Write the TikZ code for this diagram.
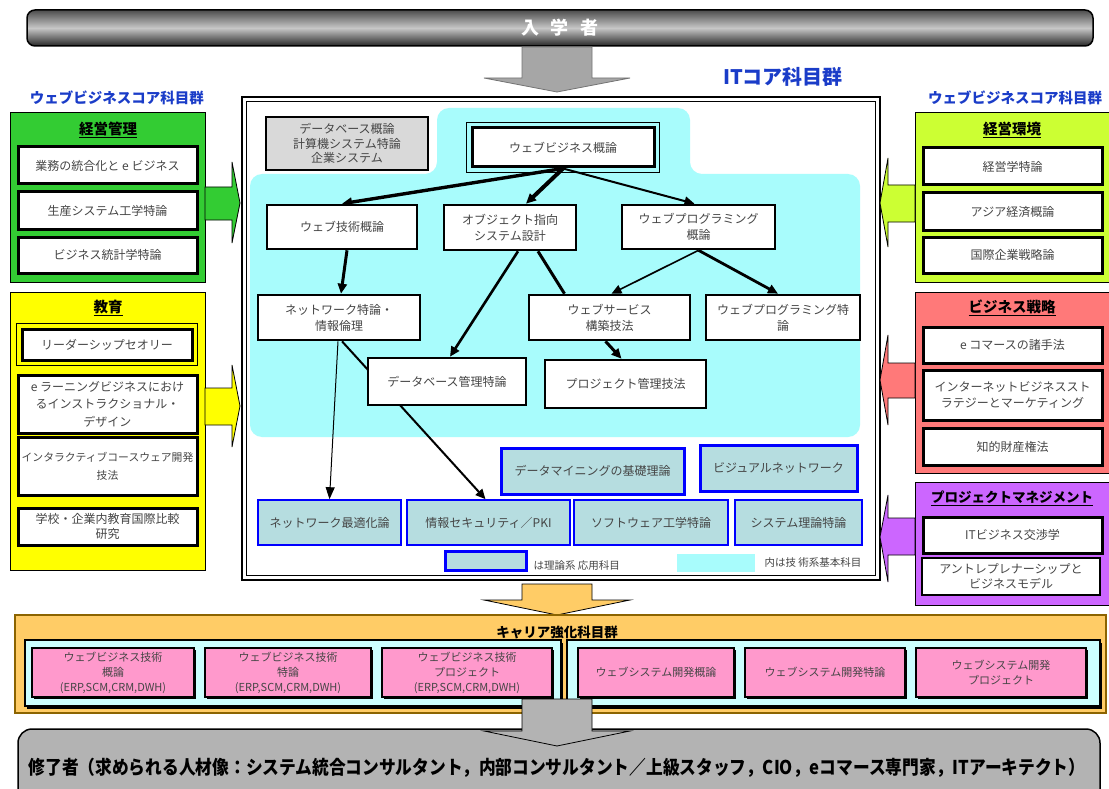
\documentclass[tikz,border=0pt]{standalone}
\usepackage{fontspec}
\setmainfont{Noto Sans CJK JP}
\usetikzlibrary{arrows.meta,calc,shadows}
\pgfdeclarelayer{bg}\pgfdeclarelayer{mid}
\pgfsetlayers{bg,mid,main}
\definecolor{cTxt}{HTML}{454545}
\definecolor{cGreen}{HTML}{33CC33}
\definecolor{cYellow}{HTML}{FFFF00}
\definecolor{cLime}{HTML}{CCFF33}
\definecolor{cSalmon}{HTML}{FF7979}
\definecolor{cPurple}{HTML}{CC66FF}
\definecolor{cOrange}{HTML}{FFCC66}
\definecolor{cOrangeBd}{HTML}{8C6400}
\definecolor{cInCyan}{HTML}{CCFFFF}
\definecolor{cPink}{HTML}{FF99CC}
\definecolor{cCyan}{HTML}{A8FCFC}
\definecolor{cTeal}{HTML}{B6DDE0}
\definecolor{cBlueBd}{HTML}{0000FF}
\definecolor{cBlue}{HTML}{1A3CC8}
\definecolor{cGrayBox}{HTML}{D9D9D9}
\definecolor{cBanner}{HTML}{B3B3B3}
\definecolor{cArrow}{HTML}{A6A6A6}
\newcommand\bx[7]{\node[#6, minimum width={(#4-#2)*1pt}, minimum height={(#5-#3)*1pt}] (#1) at ({(#2+#4)/2},{(#3+#5)/2}) {#7};}
\begin{document}
\begin{tikzpicture}[x=1pt,y=-1pt,
 wbox/.style={draw=black, line width=2.6pt, fill=white, text=cTxt, align=center, inner sep=1pt, font=\fontsize{12}{16}\selectfont},
 lbox/.style={wbox, line width=3pt},
 gbox/.style={wbox, fill=cGrayBox},
 bbox/.style={draw=cBlueBd, line width=1.6pt, fill=cTeal, text=cTxt, align=center, inner sep=1pt, font=\fontsize{12}{16}\selectfont},
 bboxT/.style={bbox, line width=3pt},
 pbox/.style={draw=black, line width=1.2pt, fill=cPink, text=cTxt, align=center, inner sep=1pt, font=\fontsize{11}{15}\selectfont, drop shadow={shadow xshift=1.5pt, shadow yshift=-1.5pt, fill=black, opacity=1}},
 panel/.style={draw=black, line width=1pt},
 ptitle/.style={font=\bfseries\fontsize{14.5}{16}\selectfont, text=black},
 grouptitle/.style={font=\bfseries\fontsize{14.5}{16}\selectfont, text=cBlue},
 conn/.style={-{Triangle[length=10pt,width=9pt]}, line width=2.6pt},
 bigarrow/.style={draw=black, line width=0.8pt},
]
\path[use as bounding box] (0,0) rectangle (1109,789);
\clip (0,0) rectangle (1109,789);

% ---------- top banner ----------
\bx{entrant}{27}{10}{1093}{46}{draw=black, line width=1.5pt, rounded corners=8pt, top color=black!70, bottom color=black!85, middle color=black!22, text=white, font=\bfseries\fontsize{18}{20}\selectfont}{入\hspace{12pt}学\hspace{12pt}者}
\path[bigarrow, draw=black!55, fill=cArrow] (522,47) -- (592,47) -- (592,78) -- (630,78) -- (557,92) -- (484,78) -- (522,78) -- cycle;

\node[font=\bfseries\fontsize{20}{22}\selectfont, text=cBlue] (itcore) at (783,77) {ITコア科目群};
\node[grouptitle] (wbcL) at (117,98) {ウェブビジネスコア科目群};
\node[grouptitle] (wbcR) at (1015,98) {ウェブビジネスコア科目群};

% ---------- central frame ----------
\begin{pgfonlayer}{bg}
\draw[line width=2.2pt, fill=white] (242,97) rectangle (880,580);
\draw[line width=0.7pt] (246.5,101.5) rectangle (875.5,575.5);
\fill[cCyan, rounded corners=12pt] (437,108) -- (690,108) -- (690,174) -- (860,174) -- (860,437) -- (250,437) -- (250,174) -- (437,174) -- cycle;
\end{pgfonlayer}

\bx{dbintro}{266}{117}{428}{170}{gbox, font=\fontsize{12}{14.5}\selectfont}{データベース概論\\計算機システム特論\\企業システム}
\bx{wbiz}{472}{128}{654}{167}{wbox, line width=3pt}{ウェブビジネス概論}
\draw[line width=0.9pt] ($(wbiz.north west)+(-4,-4)$) rectangle ($(wbiz.south east)+(4,4)$);
\bx{webtech}{267}{205}{417}{249}{wbox}{ウェブ技術概論}
\bx{oop}{444}{205}{576}{250}{wbox}{オブジェクト指向\\システム設計}
\bx{webprog}{622}{205}{775}{249}{wbox}{ウェブプログラミング\\概論}
\bx{netsp}{258}{295}{420}{340}{wbox}{ネットワーク特論・\\情報倫理}
\bx{websvc}{529}{295}{690}{340}{wbox}{ウェブサービス\\構築技法}
\bx{webprogsp}{706}{295}{860}{340}{wbox}{ウェブプログラミング特\\論}
\bx{dbm}{368}{358}{526}{405}{wbox}{データベース管理特論}
\bx{pm}{545}{360}{706}{408}{wbox}{プロジェクト管理技法}
\bx{dm}{501}{448}{684}{494}{bboxT}{データマイニングの基礎理論}
\bx{vis}{700}{445}{857}{491}{bboxT}{ビジュアルネットワーク}
\bx{netopt}{258}{500}{401}{545}{bbox}{ネットワーク最適化論}
\bx{sec}{407}{500}{570}{545}{bbox}{情報セキュリティ／PKI}
\bx{se}{574}{500}{728}{545}{bbox}{ソフトウェア工学特論}
\bx{sys}{735}{500}{862}{545}{bbox}{システム理論特論}
\bx{legA}{445}{551}{526}{570}{bboxT}{}
\node[anchor=west, text=cTxt, font=\fontsize{10.5}{12}\selectfont] (legAt) at (530,566) {は理論系 応用科目};
\bx{legB}{677}{554}{755}{572}{fill=cCyan}{}
\node[anchor=west, text=cTxt, font=\fontsize{10.5}{12}\selectfont] (legBt) at (761,563) {内は技 術系基本科目};

\begin{pgfonlayer}{mid}
\draw[conn, line width=3.4pt] (wbiz.south) -- (webtech.north);
\draw[conn, line width=4pt] (wbiz.south) -- ([xshift=16pt]oop.north);
\draw[conn, line width=2pt] (wbiz.south) -- ([xshift=-4pt]webprog.north);
\draw[conn, line width=3pt] ([xshift=5pt]webtech.south) -- ([xshift=2pt]netsp.north);
\draw[conn, line width=2.6pt] ([xshift=8pt]oop.south) -- ([xshift=3pt]dbm.north);
\draw[line width=3pt] ([xshift=28pt]oop.south) -- ([xshift=-45pt]websvc.north);
\draw[conn, line width=1.6pt] (webprog.south) -- ([xshift=2pt]websvc.north);
\draw[conn, line width=2.8pt] (webprog.south) -- ([xshift=-5pt]webprogsp.north);
\draw[conn, line width=3pt] ([xshift=-4pt]websvc.south) -- ([xshift=-4pt]pm.north);
\draw[-{Triangle[length=12pt,width=9pt]}, line width=1pt] ([xshift=-1pt]netsp.south) -- (netopt.north);
\draw[conn, line width=2pt] ([xshift=3pt]netsp.south) -- ([xshift=-3pt]sec.north);
\end{pgfonlayer}

% ---------- left panels ----------
\bx{mgmt}{10}{113}{205}{282}{panel, fill=cGreen}{}
\node[ptitle] (mgmtT) at (108,130) {\underline{経営管理}};
\bx{l1}{18}{147}{197}{184}{lbox}{業務の統合化と e ビジネス}
\bx{l2}{18}{192}{197}{229}{lbox}{生産システム工学特論}
\bx{l3}{18}{237}{197}{273}{lbox}{ビジネス統計学特論}
\path[bigarrow, fill=cGreen] (205,187) -- (232,187) -- (232,162) -- (240,203) -- (232,243) -- (232,220) -- (205,220) -- cycle;

\bx{edu}{10}{292}{205}{570}{panel, fill=cYellow}{}
\node[ptitle] (eduT) at (108,308) {\underline{教育}};
\bx{e1}{22}{329}{192}{360}{lbox}{リーダーシップセオリー}
\draw[line width=0.8pt] ($(e1.north west)+(-4,-4)$) rectangle ($(e1.south east)+(4,4)$);
\bx{e2}{18}{375}{197}{433}{lbox, font=\fontsize{12}{17.5}\selectfont}{e ラーニングビジネスにおけ\\るインストラクショナル・\\デザイン}
\bx{e3}{18}{437}{197}{495}{lbox, font=\fontsize{10.8}{18}\selectfont}{インタラクティブコースウェア開発\\技法}
\bx{e4}{18}{508}{197}{545}{lbox, font=\fontsize{12}{15}\selectfont}{学校・企業内教育国際比較\\研究}
\path[bigarrow, fill=cYellow] (205,388) -- (232,388) -- (232,365) -- (240,406) -- (232,447) -- (232,425) -- (205,425) -- cycle;

% ---------- right panels ----------
\bx{env}{915}{113}{1120}{282}{panel, fill=cLime}{}
\node[ptitle] (envT) at (1012,130) {\underline{経営環境}};
\bx{r1}{923}{148}{1102}{185}{lbox}{経営学特論}
\bx{r2}{923}{193}{1102}{230}{lbox}{アジア経済概論}
\bx{r3}{923}{237}{1102}{273}{lbox}{国際企業戦略論}
\path[bigarrow, fill=cLime] (915,185) -- (888,185) -- (888,158) -- (880,203) -- (888,247) -- (888,222) -- (915,222) -- cycle;

\bx{strat}{915}{292}{1120}{473}{panel, fill=cSalmon}{}
\node[ptitle] (stratT) at (1012,308) {\underline{ビジネス戦略}};
\bx{s1}{923}{327}{1102}{363}{lbox}{e コマースの諸手法}
\bx{s2}{923}{370}{1102}{420}{lbox}{インターネットビジネススト\\ラテジーとマーケティング}
\bx{s3}{923}{428}{1102}{465}{lbox}{知的財産権法}
\path[bigarrow, fill=cSalmon] (915,363) -- (888,363) -- (888,335) -- (880,380) -- (888,425) -- (888,398) -- (915,398) -- cycle;

\bx{proj}{915}{482}{1120}{605}{panel, fill=cPurple}{}
\node[ptitle, font=\bfseries\fontsize{13.5}{15}\selectfont] (projT) at (1012,498) {\underline{プロジェクトマネジメント}};
\bx{p1}{923}{517}{1102}{553}{lbox}{ITビジネス交渉学}
\bx{p2}{922}{558}{1100}{595}{wbox, line width=2.2pt, font=\fontsize{12}{15}\selectfont}{アントレプレナーシップと\\ビジネスモデル}
\path[bigarrow, fill=cPurple] (915,518) -- (888,518) -- (888,495) -- (880,537) -- (888,582) -- (888,555) -- (915,555) -- cycle;

% ---------- career panel ----------
\path[bigarrow, fill=cOrange] (522,584) -- (592,584) -- (592,600) -- (630,600) -- (557,615) -- (484,600) -- (522,600) -- cycle;
\bx{career}{15}{615}{1106}{713}{draw=cOrangeBd, line width=2pt, fill=cOrange}{}
\node[font=\bfseries\fontsize{13.5}{15}\selectfont] (careerT) at (557,632) {キャリア強化科目群};
\bx{cpL}{25}{640}{561}{706}{draw=black, line width=1.5pt, fill=cInCyan, drop shadow={shadow xshift=2pt, shadow yshift=-2.5pt, fill=black, opacity=1}}{}
\bx{cpR}{567}{640}{1100}{706}{draw=black, line width=1.5pt, fill=cInCyan, drop shadow={shadow xshift=2pt, shadow yshift=-2.5pt, fill=black, opacity=1}}{}
\bx{k1}{32}{648}{194}{697}{pbox}{ウェブビジネス技術\\概論\\(ERP,SCM,CRM,DWH)}
\bx{k2}{205}{648}{371}{697}{pbox}{ウェブビジネス技術\\特論\\(ERP,SCM,CRM,DWH)}
\bx{k3}{382}{648}{552}{697}{pbox}{ウェブビジネス技術\\プロジェクト\\(ERP,SCM,CRM,DWH)}
\bx{k4}{578}{648}{734}{697}{pbox}{ウェブシステム開発概論}
\bx{k5}{745}{648}{905}{697}{pbox}{ウェブシステム開発特論}
\bx{k6}{916}{648}{1086}{697}{pbox}{ウェブシステム開発\\プロジェクト}

% ---------- graduate banner ----------
\bx{grad}{18}{729}{1100}{810}{draw=black, line width=1.5pt, fill=cBanner, rounded corners=14pt}{}
\path[bigarrow, fill=cBanner] (522,699) -- (592,699) -- (592,731) -- (630,731) -- (557,746) -- (484,731) -- (522,731) -- cycle;
\node[font=\bfseries\fontsize{19}{21}\selectfont] (gradT) at (557,768) {\scalebox{0.88}[1]{修了者（求められる人材像：システム統合コンサルタント，内部コンサルタント／上級スタッフ，CIO，eコマース専門家，ITアーキテクト）}};
\end{tikzpicture}
\end{document}
